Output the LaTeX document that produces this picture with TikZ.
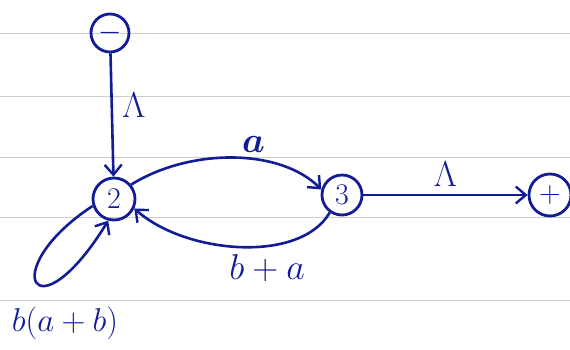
\RequirePackage{fix-cm}
\documentclass[tikz,border=0pt]{standalone}
\usepackage{amsmath}
\usepackage{xcolor}
\usetikzlibrary{arrows.meta,positioning}

\definecolor{ink}{RGB}{18,28,150}

\begin{document}
\begin{tikzpicture}[
  x=1pt, y=-1pt,
  state/.style={circle, draw=ink, line width=2.8pt, minimum size=42pt, inner sep=0pt, text=ink, font=\fontsize{30}{32}\selectfont},
  trans/.style={-{Straight Barb[length=10pt,width=17pt,line width=2.4pt]}, line width=2.6pt, ink},
  lbl/.style={text=ink, font=\fontsize{36}{40}\selectfont},
  rule/.style={gray!40, line width=0.7pt},
  >=Stealth
]
  \useasboundingbox (0,0) rectangle (570,349);

  % paper lines
  \foreach \ly in {33,96,157,217,300}
    \draw[rule] (0,\ly) -- (570,\ly);

  % states
  \node[state, minimum size=38pt] (start) at (110,33) {$-$};
  \node[state] (n2) at (114,199) {$2$};
  \node[state, minimum size=40pt] (n3) at (342,195) {$3$};
  \node[state, minimum size=42pt] (accept) at (550,195) {$+$};

  % transitions
  \draw[trans] (start) -- node[lbl, right=6pt, pos=0.42] {$\Lambda$} (n2);
  \draw[trans] (n2.40) .. controls (190,148) and (280,148) .. node[lbl, above=2pt, pos=0.6] {$\boldsymbol{a}$} (n3.165);
  \draw[trans] (n3.235) .. controls (300,264) and (185,254) .. node[lbl, below=4pt, pos=0.38] {$b+a$} (n2.-25);
  \draw[trans] (n3) -- node[lbl, above=4pt, pos=0.5] {$\Lambda$} (accept);

  % loop on 2
  \draw[trans] (n2.198) .. controls (-5,270) and (35,340) .. (n2.255);
  \node[lbl, font=\fontsize{33}{36}\selectfont] (looplbl) at (65,323) {$b(a+b)$};
\end{tikzpicture}
\end{document}
